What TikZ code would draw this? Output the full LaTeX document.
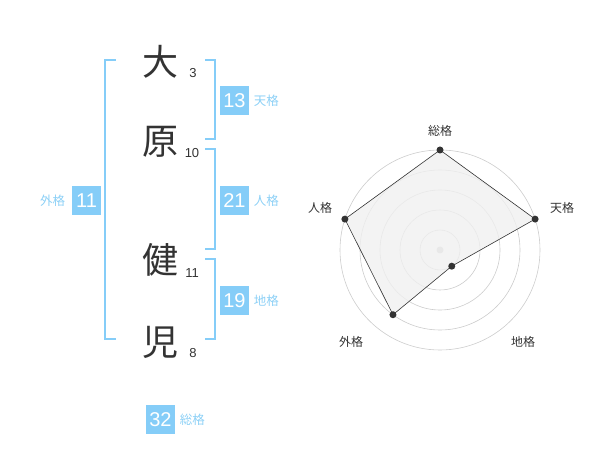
\documentclass[tikz,border=0pt]{standalone}
\usepackage{fontspec}
\setmainfont{Liberation Sans}
\newfontfamily\jp{Noto Sans CJK JP}
\usetikzlibrary{positioning}
\definecolor{kakublue}{HTML}{85CDF8}
\definecolor{kakutext}{HTML}{8CD0F6}
\definecolor{inkgray}{HTML}{333333}
\definecolor{ringgray}{HTML}{CCCCCC}
\definecolor{areagray}{HTML}{F0F0F0}
\tikzset{
  kanji/.style={text=inkgray, font=\jp\fontsize{36}{36}\selectfont, inner sep=0pt},
  kakusu/.style={text=inkgray, font=\fontsize{13}{13}\selectfont, inner sep=0pt},
  numbox/.style={fill=kakublue, text=white, minimum width=29pt, minimum height=29pt, inner sep=0pt, font=\fontsize{20}{20}\selectfont},
  kakuname/.style={text=kakutext, font=\jp\fontsize{12.5}{12.5}\selectfont, inner sep=0pt},
  bracket/.style={draw=kakublue, line width=2pt},
  axislabel/.style={text=inkgray, font=\jp\fontsize{12}{12}\selectfont, inner sep=0pt},
  ring/.style={draw=ringgray, line width=0.6pt},
  valuedot/.style={fill=inkgray, draw=none}
}
\begin{document}
\begin{tikzpicture}[x=1pt, y=-1pt]
\useasboundingbox (0,0) rectangle (600,470);
% name characters and stroke counts
\node[kanji] (c1) at (160,62) {大};
\node[kakusu] (n1) at (193,73) {3};
\node[kanji] (c2) at (160,142) {原};
\node[kakusu] (n2) at (192,153) {10};
\node[kanji] (c3) at (160,260) {健};
\node[kakusu] (n3) at (192,273) {11};
\node[kanji] (c4) at (160,342) {児};
\node[kakusu] (n4) at (193,353) {8};
% brackets
\draw[bracket] (115.5,60) -- (105,60) -- (105,339) -- (115.5,339);
\draw[bracket] (205,60) -- (214.5,60) -- (214.5,139) -- (205,139);
\draw[bracket] (205,149.5) -- (214.5,149.5) -- (214.5,249) -- (205,249);
\draw[bracket] (205,259.5) -- (214.5,259.5) -- (214.5,339) -- (205,339);
% kaku values
\node[numbox] (ten) at (234.5,100.5) {13};
\node[kakuname, right=4.5pt of ten] (tenlbl) {天格};
\node[numbox] (jin) at (234.5,200.5) {21};
\node[kakuname, right=4.5pt of jin] (jinlbl) {人格};
\node[numbox] (chi) at (234.5,300.5) {19};
\node[kakuname, right=4.5pt of chi] (chilbl) {地格};
\node[numbox] (gai) at (86.5,200.5) {11};
\node[kakuname, left=6.5pt of gai] (gailbl) {外格};
\node[numbox] (sou) at (160.5,419.5) {32};
\node[kakuname, right=4.5pt of sou] (soulbl) {総格};
% radar chart
\begin{scope}[shift={(440,250)}]
\foreach \r in {20,40,60,80,100}
  \draw[ring] (0,0) circle (\r);
\fill[ringgray] (0,0) circle (3.5);
\coordinate (psou) at (-90:100);
\coordinate (pten) at (-18:100);
\coordinate (pchi) at (54:20);
\coordinate (pgai) at (126:80);
\coordinate (pjin) at (198:100);
\filldraw[fill=areagray, fill opacity=0.8, draw=inkgray, line width=0.6pt]
  (psou) -- (pten) -- (pchi) -- (pgai) -- (pjin) -- cycle;
\foreach \p in {psou,pten,pchi,pgai,pjin}
  \fill[valuedot] (\p) circle (3.5);
\node[axislabel] (lsou) at (0,-119) {総格};
\node[axislabel] (lten) at (122,-42) {天格};
\node[axislabel] (ljin) at (-120,-42) {人格};
\node[axislabel] (lgai) at (-89,92) {外格};
\node[axislabel] (lchi) at (83,92) {地格};
\end{scope}
\end{tikzpicture}
\end{document}
